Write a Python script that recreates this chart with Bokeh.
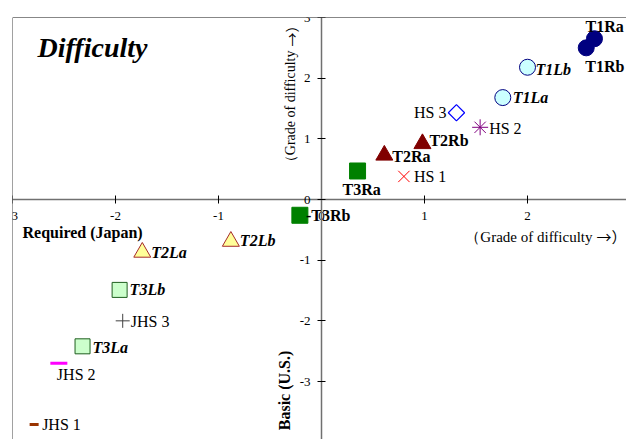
import math
from bokeh.plotting import figure
from bokeh.models import (Range1d, LinearAxis, FixedTicker, ColumnDataSource, Span, Label,
                          PrintfTickFormatter)
from bokeh.embed import file_html
from bokeh.resources import INLINE
from bokeh.core.properties import value

# ---- data ----
names = ["T1Ra", "T1Rb", "T1La", "T1Lb", "T2Ra", "T2Rb", "T2La", "T2Lb", "T3Ra", "T3Rb",
         "T3La", "T3Lb", "HS 1", "HS 2", "HS 3", "JHS 1", "JHS 2", "JHS 3"]
point_labels = ["T1Ra", "T1Rb", "T1La", "T1Lb", "T2Ra", "T2Rb", "T2La", "T2Lb", "T3Ra", "-T3Rb",
                "T3La", "T3Lb", "HS 1", "HS 2", "HS 3", "JHS 1", "JHS 2", "JHS 3"]
grade_x = [2.65, 2.57, 1.76, 2.00, 0.61, 0.98, -1.74, -0.88, 0.35, -0.21,
           -2.32, -1.96, 0.80, 1.54, 1.31, -2.79, -2.55, -1.93]
grade_y = [2.65, 2.50, 1.68, 2.18, 0.73, 0.92, -0.87, -0.69, 0.47, -0.26,
           -2.42, -1.49, 0.38, 1.19, 1.43, -3.71, -2.70, -2.00]
x_ticks = [-3, -2, -1, 0, 1, 2, 3]
y_ticks = [-4, -3, -2, -1, 0, 1, 2, 3]

# ---- styles ----
markers = ["circle", "circle", "circle", "circle", "triangle", "triangle", "triangle", "triangle",
           "square", "square", "square", "square", "x", "asterisk", "square", "dash", "dash", "cross"]
angles = [0] * 14 + [math.pi / 4, 0, 0, 0]
sizes = [16, 16, 16, 16, 17, 17, 17, 17, 16, 16, 15, 15, 16, 16, 11.5, 9, 17, 14]
fills = ["#000080", "#000080", "#CCFFFF", "#CCFFFF", "#800000", "#800000", "#FFFF99", "#FFFF99",
         "#008000", "#008000", "#CCFFCC", "#CCFFCC", "#FF0000", "#800080", "#FFFFFF",
         "#993300", "#FF00FF", "#404040"]
lines = ["#000080", "#000080", "#000080", "#000080", "#800000", "#800000", "#A52A2A", "#A52A2A",
         "#008000", "#008000", "#1E5E1E", "#1E5E1E", "#FF0000", "#800080", "#0000FF",
         "#993300", "#FF00FF", "#404040"]
lwidths = [1, 1, 1, 1, 1, 1, 1, 1, 1, 1, 1, 1, 1, 1, 1.2, 3, 3, 1]
fstyles = ["bold", "bold", "bold italic", "bold italic", "bold", "bold", "bold italic", "bold italic",
           "bold", "bold", "bold italic", "bold italic", "normal", "normal", "normal",
           "normal", "normal", "normal"]
aligns = ["left"] * 14 + ["right", "left", "left", "left"]
dxs = [-9, -1, 10, 8, 8, 7, 9, 9, -15, 6, 10, 10, 10, 9, -10, 8, -2, 8]
dys = [-12, 19, 0, 2, 1, -3, 0, -1, 19, 0, 1, 0, 0, 1, 0, 0, 11, 1]

src = ColumnDataSource(dict(x=grade_x, y=grade_y, name=names, label=point_labels, marker=markers,
                            angle=angles, size=sizes, fill=fills, line=lines, lw=lwidths,
                            fstyle=fstyles, align=aligns, dx=dxs, dy=dys))

FONT = "Liberation Serif"
CJK = "Noto Sans CJK JP"

p = figure(width=626, height=439, output_backend="svg", toolbar_location=None,
           x_range=Range1d(-3, 2.961), y_range=Range1d(-3.956, 3),
           x_axis_location=None, y_axis_location=None,
           min_border_left=12, min_border_top=17, min_border_right=0, min_border_bottom=0)
p.grid.visible = False
p.outline_line_color = None
p.background_fill_color = "white"
p.border_fill_color = "white"

# frame borders (top and left visible)
p.add_layout(Span(location=3, dimension="width", line_color="#111111", line_width=1))
p.add_layout(Span(location=-3, dimension="height", line_color="#444444", line_width=1))

xax = LinearAxis(fixed_location=0, ticker=FixedTicker(ticks=x_ticks),
                 formatter=PrintfTickFormatter(format="%d"))
yax = LinearAxis(fixed_location=0, ticker=FixedTicker(ticks=y_ticks),
                 formatter=PrintfTickFormatter(format="%d"))
for ax in (xax, yax):
    ax.axis_line_color = "#707070"
    ax.axis_line_width = 1.5
    ax.major_tick_line_color = "black"
    ax.major_tick_in = 4
    ax.major_tick_out = 4
    ax.minor_tick_line_color = None
    ax.major_label_text_font = FONT
    ax.major_label_text_font_size = "13px"
    ax.major_label_text_color = "black"
xax.major_label_standoff = 8
yax.major_label_standoff = 7
p.add_layout(xax, "below")
p.add_layout(yax, "left")

p.scatter(x="x", y="y", marker="marker", size="size", angle="angle", fill_color="fill",
          line_color="line", line_width="lw", source=src)
p.text(x="x", y="y", text="label", x_offset="dx", y_offset="dy", text_align="align",
       text_baseline="middle", text_font=value(FONT), text_font_size="16px",
       text_font_style="fstyle", text_color="black", source=src)

# annotations
p.add_layout(Label(x=-2.757, y=2.505, text="Difficulty", text_font=FONT, text_font_size="28px",
                   text_font_style="bold italic", text_baseline="middle", text_align="left",
                   text_color="black"))
p.add_layout(Label(x=-2.903, y=-0.544, text="Required (Japan)", text_font=FONT,
                   text_font_size="16px", text_font_style="bold", text_baseline="middle",
                   text_color="black"))
# horizontal axis title (text part + wide arrow part)
p.add_layout(Label(x=2.631, y=-0.61, text="（Grade of difficulty", text_font=FONT,
                   text_font_size="15px", text_baseline="middle", text_align="right",
                   text_color="black"))
p.add_layout(Label(x=2.670, y=-0.61, text="→）", text_font=CJK,
                   text_font_size="15px", text_baseline="middle", text_align="left",
                   text_color="black"))
# vertical axis title
p.add_layout(Label(x=-0.301, y=2.456, text="（Grade of difficulty", text_font=FONT,
                   text_font_size="14px", text_baseline="middle", text_align="right",
                   angle=math.pi / 2, text_color="black"))
p.add_layout(Label(x=-0.301, y=2.522, text="→）", text_font=CJK,
                   text_font_size="14px", text_baseline="middle", text_align="left",
                   angle=math.pi / 2, text_color="black"))
p.add_layout(Label(x=-0.359, y=-3.148, text="Basic (U.S.)", text_font=FONT,
                   text_font_size="16px", text_font_style="bold", text_baseline="middle",
                   text_align="center", angle=math.pi / 2, text_color="black"))

open("out.html", "w").write(file_html(p, INLINE))
